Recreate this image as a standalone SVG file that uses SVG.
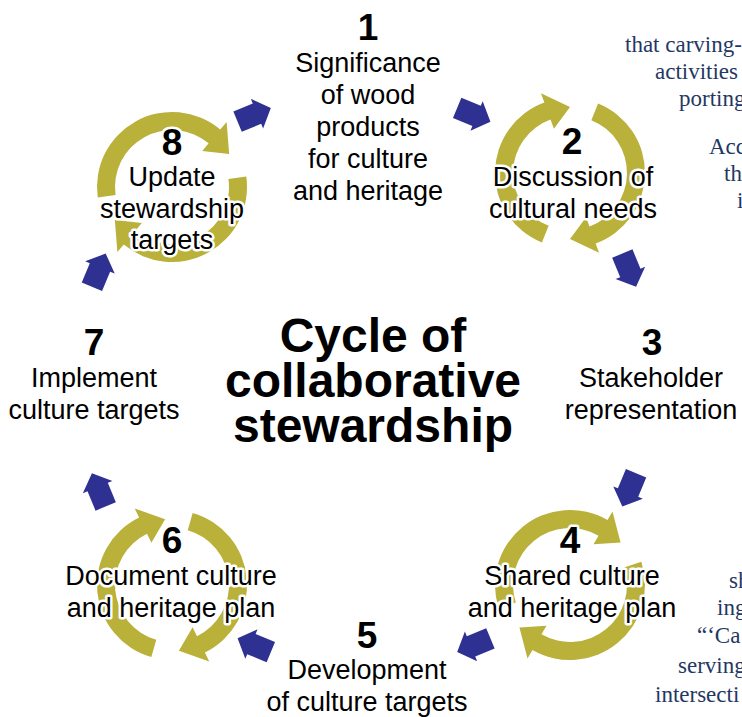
<svg xmlns="http://www.w3.org/2000/svg" width="742" height="717" viewBox="0 0 742 717">
  <style>
    .lbl{font-family:"Liberation Sans",Arial,sans-serif;font-size:27px;fill:#000;text-anchor:middle;stroke:#fff;stroke-width:5;stroke-linejoin:round;paint-order:stroke}
    .num{font-family:"Liberation Sans",Arial,sans-serif;font-size:37px;font-weight:bold;fill:#000;text-anchor:middle;stroke:#fff;stroke-width:5;stroke-linejoin:round;paint-order:stroke}
    .title{font-family:"Liberation Sans",Arial,sans-serif;font-size:48px;font-weight:bold;fill:#000;text-anchor:middle}
    .side{font-family:"Liberation Serif","Times New Roman",serif;font-size:23px;fill:#1F3864}
    .ring{fill:#B9B13A}
    .step{fill:#2E3192}
  </style>
  <defs>
    <!-- half of a circular arrow: clockwise arc ending in a head at the top -->
    <path id="halfRing" d="M -28.10 69.54 A 75 75 0 0 1 -25.65 -70.48 L -29.07 -79.87 L 0 -66 L -16.07 -44.17 L -19.49 -53.56 A 57 57 0 0 0 -21.35 52.85 Z"/>
    <g id="cycleRing" class="ring">
      <use href="#halfRing"/>
      <use href="#halfRing" transform="rotate(180)"/>
    </g>
    <!-- short block arrow pointing along +x -->
    <polygon id="stepArrow" points="-18,-11 3,-11 3,-16 18,0 3,16 3,11 -18,11"/>
  </defs>

  <rect width="742" height="717" fill="#fff"/>

  <!-- text of the neighbouring page column -->
  <g id="sideText" class="side">
    <text x="625" y="52">that carving-</text>
    <text x="655" y="79">activities i</text>
    <text x="679" y="106">porting</text>
    <text x="709" y="154">Acc</text>
    <text x="724" y="181">th</text>
    <text x="737" y="208">i</text>
    <text x="729" y="588">sh</text>
    <text x="717" y="615">ing</text>
    <text x="697" y="643">“‘Ca</text>
    <text x="678" y="673">serving</text>
    <text x="655" y="702">intersecti</text>
  </g>

  <!-- connectors between the steps -->
  <g id="connectors" class="step">
    <use href="#stepArrow" transform="translate(254.2,114.8) rotate(-22.5)"/>
    <use href="#stepArrow" transform="translate(473.8,114.8) rotate(22.5)"/>
    <use href="#stepArrow" transform="translate(629.2,270.2) rotate(67.5)"/>
    <use href="#stepArrow" transform="translate(629.2,489.8) rotate(112.5)"/>
    <use href="#stepArrow" transform="translate(473.8,645.2) rotate(157.5)"/>
    <use href="#stepArrow" transform="translate(254.2,645.2) rotate(202.5)"/>
    <use href="#stepArrow" transform="translate(98.8,489.8) rotate(247.5)"/>
    <use href="#stepArrow" transform="translate(98.8,270.2) rotate(292.5)"/>
  </g>

  <g id="title">
    <text class="title" x="373" y="352">Cycle of</text>
    <text class="title" x="373" y="397">collaborative</text>
    <text class="title" x="373" y="442">stewardship</text>
  </g>

  <g id="step1">
    <text class="num" x="368" y="40">1</text>
    <text class="lbl" x="368" y="72">Significance</text>
    <text class="lbl" x="368" y="104">of wood</text>
    <text class="lbl" x="368" y="136">products</text>
    <text class="lbl" x="368" y="168">for culture</text>
    <text class="lbl" x="368" y="200">and heritage</text>
  </g>

  <g id="step2">
    <use href="#cycleRing" transform="translate(570,173)"/>
    <text class="num" x="572" y="154">2</text>
    <text class="lbl" x="573" y="186">Discussion of</text>
    <text class="lbl" x="573" y="218">cultural needs</text>
  </g>

  <g id="step3">
    <text class="num" x="652" y="355">3</text>
    <text class="lbl" x="651" y="387">Stakeholder</text>
    <text class="lbl" x="651" y="419">representation</text>
  </g>

  <g id="step4">
    <use href="#cycleRing" transform="translate(570,585) rotate(50)"/>
    <text class="num" x="570" y="553">4</text>
    <text class="lbl" x="572" y="585">Shared culture</text>
    <text class="lbl" x="572" y="617">and heritage plan</text>
  </g>

  <g id="step5">
    <text class="num" x="367" y="648">5</text>
    <text class="lbl" x="367" y="679">Development</text>
    <text class="lbl" x="367" y="711">of culture targets</text>
  </g>

  <g id="step6">
    <use href="#cycleRing" transform="translate(172,585) rotate(-6)"/>
    <text class="num" x="172" y="553">6</text>
    <text class="lbl" x="171" y="585">Document culture</text>
    <text class="lbl" x="171" y="617">and heritage plan</text>
  </g>

  <g id="step7">
    <text class="num" x="94" y="355">7</text>
    <text class="lbl" x="94" y="387">Implement</text>
    <text class="lbl" x="94" y="419">culture targets</text>
  </g>

  <g id="step8">
    <use href="#cycleRing" transform="translate(172,187) rotate(60)"/>
    <text class="num" x="172" y="155">8</text>
    <text class="lbl" x="172" y="186">Update</text>
    <text class="lbl" x="172" y="218">stewardship</text>
    <text class="lbl" x="172" y="249">targets</text>
  </g>
</svg>
